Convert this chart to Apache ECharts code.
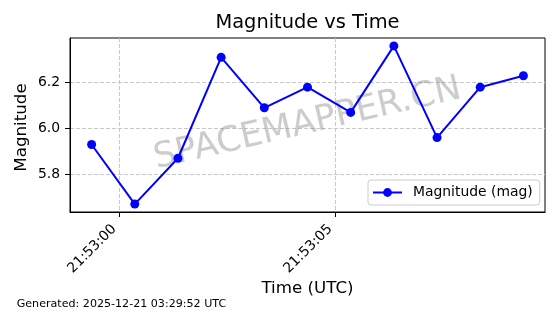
<!DOCTYPE html>
<html>
<head>
<meta charset="utf-8">
<script src="https://cdn.jsdelivr.net/npm/echarts@6/dist/echarts.min.js"></script>
<style>
html,body{margin:0;padding:0;background:#fff;}
#chart{width:560px;height:314px;}
</style>
</head>
<body>
<div id="chart"></div>
<script>
// ---- data ----
const times = ['21:52:59.36','21:53:00.36','21:53:01.36','21:53:02.36','21:53:03.36','21:53:04.36','21:53:05.36','21:53:06.36','21:53:07.36','21:53:08.36','21:53:09.36'];
const magnitudes = [5.93, 5.67, 5.87, 6.31, 6.09, 6.18, 6.07, 6.36, 5.96, 6.18, 6.23];
const xTickLabels = ['21:53:00', '21:53:05'];
const yTickValues = [5.8, 6.0, 6.2];
const seriesName = 'Magnitude (mag)';
const titleText = 'Magnitude vs Time';
const xAxisTitle = 'Time (UTC)';
const yAxisTitle = 'Magnitude';
const footerText = 'Generated: 2025-12-21 03:29:52 UTC';
const watermarkText = 'SPACEMAPPER.CN';

function toSec(s) {
  const p = s.split(':');
  return (+p[0]) * 3600 + (+p[1]) * 60 + parseFloat(p[2]);
}
function fmt(sec) {
  sec = Math.round(sec);
  const h = Math.floor(sec / 3600), m = Math.floor((sec % 3600) / 60), s = sec % 60;
  const z = n => (n < 10 ? '0' : '') + n;
  return z(h) + ':' + z(m) + ':' + z(s);
}
const xs = times.map(toSec);
const seriesData = xs.map((x, i) => [x, magnitudes[i]]);
const xMinD = Math.min(...xs), xMaxD = Math.max(...xs);
const yMinD = Math.min(...magnitudes), yMaxD = Math.max(...magnitudes);
const xPad = (xMaxD - xMinD) * 0.05, yPad = (yMaxD - yMinD) * 0.05;
const xTickValues = xTickLabels.map(toSec);

const FONT = 'DejaVu Sans';
const gridLine = { show: true, lineStyle: { color: '#c8c8c8', width: 1, type: [4, 2] } };

const chart = echarts.init(document.getElementById('chart'), null, { renderer: 'canvas' });
chart.setOption({
  animation: false,
  backgroundColor: '#ffffff',
  grid: { left: 70, top: 38, right: 15, bottom: 102, show: true, borderColor: '#000', borderWidth: 1, backgroundColor: 'transparent' },
  xAxis: {
    type: 'value',
    min: xMinD - xPad,
    max: xMaxD + xPad,
    axisLine: { show: true, lineStyle: { color: '#000', width: 1 } },
    axisTick: { show: true, customValues: xTickValues, length: 5, lineStyle: { color: '#000', width: 1 } },
    axisLabel: {
      customValues: xTickValues,
      formatter: v => fmt(v),
      rotate: 45,
      margin: 10,
      padding: [0, 7, 0, 0],
      color: '#000',
      fontFamily: FONT,
      fontSize: 13.9
    },
    splitLine: gridLine
  },
  yAxis: {
    type: 'value',
    min: yMinD - yPad,
    max: yMaxD + yPad,
    axisLine: { show: true, lineStyle: { color: '#000', width: 1 } },
    axisTick: { show: true, customValues: yTickValues, length: 5, lineStyle: { color: '#000', width: 1 } },
    axisLabel: {
      customValues: yTickValues,
      formatter: v => v.toFixed(1),
      margin: 10,
      color: '#000',
      fontFamily: FONT,
      fontSize: 13.9
    },
    splitLine: gridLine
  },
  legend: {
    left: 368,
    top: 180,
    padding: [4, 7, 4, 4],
    itemWidth: 29,
    itemHeight: 11,
    backgroundColor: 'rgba(255,255,255,0.8)',
    borderColor: '#cccccc',
    borderWidth: 1,
    borderRadius: 3,
    textStyle: { color: '#000', fontFamily: FONT, fontSize: 13.9, lineHeight: 17, padding: [0, 0, 0, 6] },
    data: [seriesName]
  },
  graphic: [
    { type: 'text', z: 1, x: 307.5, y: 124, rotation: 13 * Math.PI / 180,
      style: { text: watermarkText, font: '35px "DejaVu Sans"', fill: 'rgba(128,128,128,0.4)', align: 'center', verticalAlign: 'middle' } },
    { type: 'text', x: 307.5, y: 23,
      style: { text: titleText, font: '19.4px "DejaVu Sans"', fill: '#000', align: 'center', verticalAlign: 'middle' } },
    { type: 'text', x: 307.5, y: 288.5,
      style: { text: xAxisTitle, font: '16.7px "DejaVu Sans"', fill: '#000', align: 'center', verticalAlign: 'middle' } },
    { type: 'text', x: 22, y: 127.5, rotation: Math.PI / 2,
      style: { text: yAxisTitle, font: '16.7px "DejaVu Sans"', fill: '#000', align: 'center', verticalAlign: 'middle' } },
    { type: 'text', x: 16.7, y: 304.3,
      style: { text: footerText, font: '11.1px "DejaVu Sans"', fill: '#000', align: 'left', verticalAlign: 'middle' } }
  ],
  series: [{
    name: seriesName,
    type: 'line',
    z: 5,
    data: seriesData,
    symbol: 'circle',
    symbolSize: 9,
    showSymbol: true,
    lineStyle: { color: '#0000ff', width: 2 },
    itemStyle: { color: '#0000ff' }
  }]
});
</script>
</body>
</html>
